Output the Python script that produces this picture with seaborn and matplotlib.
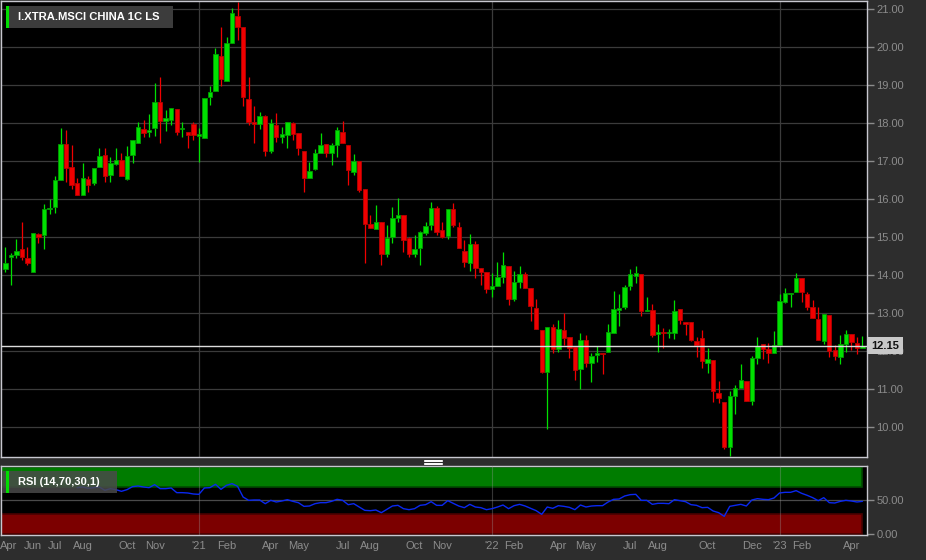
import numpy as np
import pandas as pd
import matplotlib
matplotlib.use("Agg")
import matplotlib.pyplot as plt
import seaborn as sns
from matplotlib.patches import Rectangle
from matplotlib.lines import Line2D
from matplotlib.transforms import blended_transform_factory

# Set the data (weekly candles, first week starting 2020-04-27)
title = "I.XTRA.MSCI CHINA 1C LS"
rsi_title = "RSI (14,70,30,1)"
first_week = "2020-04-27"

opens = [
    14.16, 14.47, 14.54, 14.69, 14.46, 14.08, 15.10, 15.05, 15.75, 15.79,
    16.51, 17.45, 16.84, 16.44, 16.11, 16.54, 16.42, 16.84, 17.17, 16.63,
    16.93, 17.03, 16.53, 17.17, 17.49, 17.86, 17.77, 17.87, 18.57, 18.06,
    18.09, 18.37, 17.85, 17.76, 17.98, 17.66, 17.60, 18.68, 18.86, 19.77,
    19.11, 20.10, 20.82, 20.53, 18.65, 18.04, 17.99, 18.18, 17.28, 17.96,
    17.65, 17.68, 18.00, 17.74, 17.27, 16.55, 16.79, 17.21, 17.46, 17.21,
    17.43, 17.77, 17.43, 16.72, 17.00, 16.26, 15.36, 15.21, 15.39, 14.56,
    15.00, 15.52, 15.58, 14.97, 14.56, 14.72, 15.12, 15.32, 15.77, 15.19,
    15.04, 15.74, 15.28, 14.65, 14.32, 14.82, 14.19, 14.10, 13.65, 13.72,
    13.95, 14.25, 13.37, 13.83, 14.04, 13.66, 13.15, 12.55, 11.46, 12.65,
    12.07, 12.57, 12.38, 12.11, 11.54, 12.30, 11.68, 11.89, 11.96, 11.98,
    12.49, 13.09, 13.16, 13.73, 13.97, 14.04, 13.05, 13.09, 12.45, 12.49,
    12.47, 12.47, 13.11, 12.78, 12.76, 12.27, 12.35, 11.70, 11.77, 10.89,
    10.67, 9.47, 10.83, 11.04, 11.22, 10.70, 11.83, 12.19, 12.06, 11.95,
    12.17, 13.31, 13.51, 13.57, 13.94, 13.50, 13.16, 12.85, 12.28, 12.96,
    12.04, 11.84, 12.19, 12.46, 12.23, 12.08,
]
highs = [
    14.75, 14.58, 14.95, 15.41, 14.74, 15.12, 15.12, 15.88, 16.00, 16.61,
    17.88, 17.82, 17.43, 16.57, 16.95, 16.61, 16.82, 17.34, 17.34, 17.12,
    17.34, 17.21, 17.40, 17.56, 18.04, 18.09, 18.25, 19.05, 19.21, 18.35,
    18.39, 18.37, 18.04, 17.78, 18.04, 17.87, 18.66, 18.98, 19.99, 20.54,
    20.28, 21.03, 21.18, 20.53, 19.23, 18.46, 18.31, 18.23, 18.11, 18.26,
    17.89, 18.03, 18.03, 17.74, 17.27, 16.99, 17.32, 17.75, 17.46, 17.47,
    17.91, 18.06, 17.43, 17.19, 17.00, 16.28, 15.59, 15.85, 15.39, 15.32,
    15.79, 16.04, 15.58, 15.02, 15.06, 15.17, 15.39, 15.92, 15.82, 15.39,
    15.75, 15.91, 15.39, 14.93, 15.10, 14.89, 14.19, 14.10, 14.07, 14.36,
    14.61, 14.25, 14.12, 14.25, 14.08, 13.66, 13.37, 12.55, 12.64, 12.72,
    12.82, 13.00, 12.38, 12.11, 12.47, 12.43, 11.95, 12.14, 11.96, 12.71,
    13.59, 13.51, 13.75, 14.16, 14.25, 14.04, 13.42, 13.25, 12.72, 12.61,
    12.58, 13.35, 13.11, 12.78, 12.76, 12.37, 12.56, 12.08, 11.77, 11.23,
    10.67, 10.96, 11.11, 11.66, 11.22, 11.88, 12.37, 12.19, 12.23, 12.54,
    13.50, 13.66, 13.54, 14.05, 13.94, 13.57, 13.35, 13.16, 12.97, 12.96,
    12.17, 12.43, 12.56, 12.46, 12.37, 12.40,
]
lows = [
    14.10, 13.75, 14.45, 14.40, 14.27, 14.08, 14.84, 14.68, 15.60, 15.65,
    16.51, 16.46, 16.26, 16.10, 16.11, 16.20, 16.38, 16.84, 16.46, 16.46,
    16.90, 16.60, 16.51, 16.95, 17.47, 17.65, 17.65, 17.67, 17.47, 17.80,
    17.96, 17.69, 17.65, 17.34, 17.56, 16.97, 17.60, 18.47, 18.86, 18.98,
    19.11, 20.10, 20.18, 18.46, 17.96, 17.49, 17.84, 17.14, 17.23, 17.52,
    17.47, 17.34, 17.56, 17.17, 16.20, 16.55, 16.77, 17.21, 17.10, 16.90,
    17.10, 17.47, 16.38, 16.64, 16.20, 14.32, 15.24, 15.21, 14.27, 14.49,
    14.84, 15.41, 14.62, 14.49, 14.49, 14.27, 15.06, 15.18, 15.07, 14.97,
    14.95, 15.28, 14.71, 14.23, 14.12, 13.92, 13.75, 13.54, 13.42, 13.72,
    13.79, 13.22, 13.32, 13.66, 13.66, 12.80, 12.59, 11.44, 9.95, 11.95,
    11.99, 12.17, 11.82, 11.25, 11.00, 11.60, 11.20, 11.73, 11.40, 11.98,
    12.49, 12.67, 13.11, 13.61, 13.79, 12.94, 13.05, 12.37, 11.99, 12.08,
    12.34, 12.32, 12.72, 12.43, 12.28, 11.86, 11.55, 11.44, 10.66, 10.63,
    9.42, 9.25, 10.34, 11.04, 10.68, 10.59, 11.66, 11.80, 11.68, 11.95,
    12.17, 13.28, 13.16, 13.57, 13.31, 13.09, 12.87, 12.30, 12.19, 11.86,
    11.77, 11.66, 11.99, 12.04, 11.92, 12.08,
]
closes = [
    14.32, 14.53, 14.65, 14.47, 14.32, 15.12, 15.00, 15.75, 15.78, 16.51,
    17.45, 16.83, 16.38, 16.11, 16.57, 16.38, 16.82, 17.15, 16.60, 16.96,
    17.03, 16.62, 17.14, 17.56, 17.91, 17.75, 17.82, 18.57, 18.06, 18.13,
    18.39, 17.78, 17.87, 17.69, 17.69, 17.73, 18.66, 18.83, 19.82, 19.16,
    20.10, 20.91, 20.54, 18.70, 18.04, 17.99, 18.18, 17.28, 18.00, 17.65,
    17.72, 18.03, 17.72, 17.34, 16.55, 16.75, 17.21, 17.42, 17.21, 17.42,
    17.82, 17.47, 16.77, 17.00, 16.25, 15.35, 15.24, 15.39, 14.56, 14.99,
    15.50, 15.59, 14.93, 14.56, 14.68, 15.15, 15.31, 15.77, 15.15, 15.02,
    15.75, 15.32, 14.73, 14.36, 14.82, 14.18, 14.10, 13.64, 13.73, 13.95,
    14.27, 13.37, 13.83, 14.04, 13.66, 13.19, 12.59, 11.46, 12.64, 12.07,
    12.59, 12.34, 12.09, 11.51, 12.29, 11.68, 11.88, 11.96, 11.93, 12.50,
    13.11, 13.14, 13.70, 14.03, 14.07, 13.07, 13.10, 12.43, 12.50, 12.47,
    12.50, 13.06, 12.82, 12.72, 12.30, 12.17, 11.74, 11.80, 10.96, 10.77,
    9.47, 10.82, 11.04, 11.25, 10.70, 11.82, 12.15, 12.06, 11.96, 12.17,
    13.32, 13.53, 13.54, 13.94, 13.55, 13.16, 12.87, 12.30, 12.97, 12.01,
    11.88, 12.19, 12.45, 12.25, 12.08, 12.15,
]

# RSI(14), starting at week 13
rsi_first = 13
rsi_values = [
    69, 70, 68, 69, 70, 65, 67.5, 66, 63.5, 66,
    70.5, 71.5, 70, 69, 73.5, 67.5, 67.5, 68.5, 61.5, 61.5,
    61, 59.5, 59, 68.5, 69, 74, 66.5, 72.5, 75, 71,
    55, 50, 50.5, 50.5, 45, 50, 47.5, 49, 51, 48.5,
    46.5, 41, 41.5, 45, 46.5, 46.5, 48.5, 51.5, 50, 43.5,
    45, 40, 35, 34.5, 35.5, 31.5, 36.5, 41.5, 42.5, 37.5,
    36, 37.5, 42.5, 43.5, 48, 42.5, 42.5, 49.5, 45.5, 41.5,
    39, 44, 40, 39, 36, 37.5, 40, 43, 37.5, 42,
    44, 41.5, 38, 34.5, 29, 40, 38, 42, 41, 39.5,
    36, 43, 40, 41.5, 42, 42, 47.5, 51.5, 52, 56.5,
    58.5, 59, 50, 50, 44, 45.5, 45.5, 45, 51, 49.5,
    48, 43.5, 42.5, 39, 39.5, 34, 31.5, 26, 41, 42.5,
    44, 41.5, 50.5, 52.5, 51.5, 51, 53.5, 61, 62, 62,
    64.5, 60.5, 57.5, 54, 49.5, 54, 46.5, 46, 48.5, 50,
    49, 47.5, 48.5,
]

tick_months = [
    "2020-04", "2020-06", "2020-07", "2020-08", "2020-10", "2020-11",
    "2021-01", "2021-02", "2021-04", "2021-05", "2021-07", "2021-08",
    "2021-10", "2021-11", "2022-01", "2022-02", "2022-04", "2022-05",
    "2022-07", "2022-08", "2022-10", "2022-12", "2023-01", "2023-02",
    "2023-04",
]
tick_labels = [
    "Apr", "Jun", "Jul", "Aug", "Oct", "Nov", "'21", "Feb", "Apr", "May",
    "Jul", "Aug", "Oct", "Nov", "'22", "Feb", "Apr", "May", "Jul", "Aug",
    "Oct", "Dec", "'23", "Feb", "Apr",
]

# Build the tables
candles = pd.DataFrame({"open": opens, "high": highs, "low": lows, "close": closes})
candles["week"] = np.arange(len(candles))
candles["up"] = candles["close"] >= candles["open"]
rsi = pd.DataFrame({"week": np.arange(rsi_first, rsi_first + len(rsi_values)),
                    "rsi": rsi_values})

start = pd.Timestamp(first_week)
tick_pos = []
for m in tick_months:
    d = pd.Timestamp(np.busday_offset(m + "-01", 0, roll="forward"))
    tick_pos.append(max(0, (d - start).days // 7))

# Style
sns.set_style("dark")
plt.rcParams["font.family"] = ["Liberation Sans", "DejaVu Sans"]

bg = "#2d2d2d"
grid = "#3b3b3b"
frame = "#c8c8d0"
label_col = "#8c8c8c"
green, green_edge = "#00e000", "#009a00"
red, red_edge = "#f00000", "#b80000"

W, H = 926, 560
fig = plt.figure(figsize=(W / 100, H / 100), dpi=100, facecolor=bg)


def box(left, top, right, bottom):
    return [left / W, 1 - bottom / H, (right - left) / W, (bottom - top) / H]


ax = fig.add_axes(box(0.5, 1, 866.5, 456.5))
ax2 = fig.add_axes(box(0.5, 465.5, 866.5, 534.5), sharex=ax)
xmin, xmax = -0.87, 155.73

for a in (ax, ax2):
    a.set_facecolor("black")
    for s in a.spines.values():
        s.set_color(frame)
        s.set_linewidth(1)
    a.grid(False)

# Price panel
ax.set_xlim(xmin, xmax)
ax.set_ylim(9.232, 21.218)
for p in range(10, 22):
    ax.axhline(p, color=grid, lw=0.9, zorder=0)
for pos, lab in zip(tick_pos, tick_labels):
    if lab.startswith("'"):
        ax.axvline(pos, color=grid, lw=0.9, zorder=0)
        ax2.axvline(pos, color="#9a9a9a", lw=0.8, alpha=0.35, zorder=3)

colors = np.where(candles["up"], green, red)
edges = np.where(candles["up"], green_edge, red_edge)
ax.vlines(candles["week"], candles["low"], candles["high"], colors=colors, lw=0.9, zorder=2)
body_low = candles[["open", "close"]].min(axis=1)
body_h = (candles["close"] - candles["open"]).abs().clip(lower=0.03)
ax.bar(candles["week"], body_h, bottom=body_low, width=0.8, color=colors,
       edgecolor=edges, linewidth=0.6, zorder=3)

last = closes[-1]
ax.axhline(last, color="#dcdcdc", lw=1, zorder=4)

ax.yaxis.tick_right()
ax.set_yticks(range(10, 22))
ax.set_yticklabels([f"{v:.2f}" for v in range(10, 22)])
ax.tick_params(axis="y", colors=label_col, length=5, width=1, pad=2, labelsize=8)
ax.tick_params(axis="x", bottom=False, labelbottom=False)
ax.set_xlabel("")
ax.set_ylabel("")

trans = blended_transform_factory(ax.transAxes, ax.transData)
ax.annotate(f"{last:.2f}", xy=(1, last), xycoords=trans, xytext=(3.6, 0),
            textcoords="offset points", va="center", ha="left", fontsize=8,
            fontweight="bold", color="#111111", zorder=20,
            bbox=dict(boxstyle="square,pad=0.3", fc="#c8c8c8", ec="none"),
            annotation_clip=False)

# RSI panel
ax2.set_ylim(-1.2, 102.2)
ax2.add_patch(Rectangle((xmin, 70), 155 - xmin, 30, fc="#007c00", ec="#004a00", lw=1.2, zorder=1))
ax2.add_patch(Rectangle((xmin, 0), 155 - xmin, 30, fc="#7c0000", ec="#4a0000", lw=1.2, zorder=1))
ax2.axhline(50, color="#4a4a4a", lw=0.9, zorder=1)
sns.lineplot(data=rsi, x="week", y="rsi", ax=ax2, color="#0a28f0", lw=1, zorder=4)
ax2.set_xlim(xmin, xmax)
ax2.yaxis.tick_right()
ax2.set_yticks([0, 50])
ax2.set_yticklabels(["0.00", "50.00"])
ax2.tick_params(axis="y", colors=label_col, length=5, width=1, pad=2, labelsize=8)
ax2.set_xticks(tick_pos)
# first label is kept inside the figure edge, so it is drawn separately
ax2.set_xticklabels([""] + tick_labels[1:])
ax2.tick_params(axis="x", colors=label_col, length=3, width=1, pad=2, labelsize=8)
ax2.annotate(tick_labels[0], xy=(tick_pos[0], 0), xycoords=ax2.get_xaxis_transform(),
             xytext=(-3.6, -5.0), textcoords="offset points", ha="left", va="top",
             fontsize=8, color=label_col, annotation_clip=False)
ax2.set_xlabel("")
ax2.set_ylabel("")


def fig_rect(x0, y0, x1, y1, **kw):
    fig.add_artist(Rectangle((x0 / W, 1 - y1 / H), (x1 - x0) / W, (y1 - y0) / H,
                             transform=fig.transFigure, **kw))


# Title box
fig_rect(6, 6, 172.5, 27.5, fc="#3c3c3c", ec="none", zorder=10)
fig_rect(6, 6, 8.7, 27.5, fc="#00dd00", ec="none", zorder=11)
fig.text(17.5 / W, 1 - 17 / H, title, color="white", fontsize=8.1, fontweight="bold",
         va="center", ha="left", zorder=12)

# RSI label box
fig_rect(2, 471, 116.5, 492.5, fc="#4a4a4a", ec="none", alpha=0.85, zorder=10)
fig_rect(6, 471, 8.7, 492.5, fc="#00dd00", ec="none", zorder=11)
fig.text(18.3 / W, 1 - 482 / H, rsi_title, color="white", fontsize=8, fontweight="bold",
         va="center", ha="left", zorder=12)

# Panel divider handle
for yy in (459.5, 461, 462.5, 464):
    fig.add_artist(Line2D([424 / W, 442 / W], [1 - yy / H, 1 - yy / H], color="white",
                          lw=0.7, transform=fig.transFigure))

fig.savefig("out.png", dpi=100, facecolor=bg)
